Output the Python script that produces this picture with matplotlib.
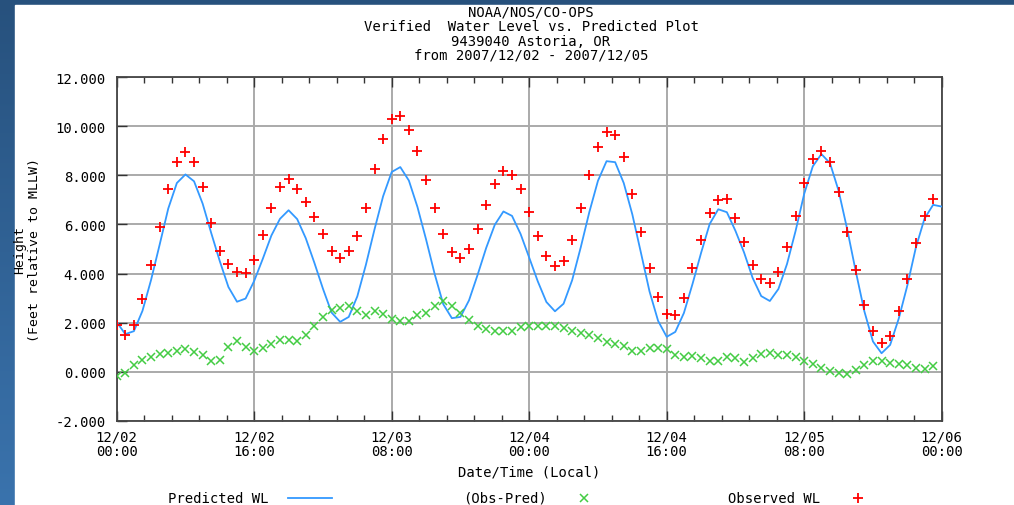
import numpy as np
import matplotlib
matplotlib.use('Agg')
import matplotlib.pyplot as plt
from matplotlib.ticker import MultipleLocator
from matplotlib.patches import Rectangle
from matplotlib.lines import Line2D
from matplotlib.colors import LinearSegmentedColormap

plt.rcParams['font.family'] = ['DejaVu Sans Mono']

# hours since 2007/12/02 00:00
obs_hours = list(range(96))
observed = [1.89, 1.49, 1.92, 2.95, 4.35, 5.88, 7.43, 8.54, 8.96, 8.54,
            7.53, 6.08, 4.91, 4.39, 4.05, 4.01, 4.54, 5.57, 6.66, 7.51,
            7.84, 7.46, 6.93, 6.30, 5.61, 4.91, 4.64, 4.91, 5.54, 6.66,
            8.27, 9.49, 10.30, 10.41, 9.86, 9.01, 7.80, 6.66, 5.61, 4.86,
            4.64, 5.00, 5.81, 6.78, 7.64, 8.18, 8.00, 7.43, 6.51, 5.54,
            4.70, 4.32, 4.53, 5.38, 6.66, 8.00, 9.16, 9.77, 9.65, 8.74,
            7.26, 5.70, 4.22, 3.04, 2.34, 2.30, 3.00, 4.22, 5.38, 6.45,
            6.99, 7.05, 6.28, 5.27, 4.36, 3.78, 3.62, 4.05, 5.07, 6.35,
            7.68, 8.68, 9.01, 8.54, 7.34, 5.70, 4.16, 2.73, 1.66, 1.18,
            1.45, 2.47, 3.78, 5.23, 6.35, 7.03]
residual = [-0.18, -0.04, 0.27, 0.47, 0.61, 0.70, 0.78, 0.85, 0.92, 0.80,
            0.69, 0.43, 0.49, 1.01, 1.23, 1.01, 0.84, 0.97, 1.11, 1.28,
            1.28, 1.24, 1.49, 1.86, 2.23, 2.50, 2.61, 2.68, 2.47, 2.30,
            2.47, 2.34, 2.16, 2.07, 2.07, 2.30, 2.41, 2.68, 2.86, 2.68,
            2.41, 2.09, 1.86, 1.73, 1.65, 1.65, 1.65, 1.82, 1.86, 1.86,
            1.86, 1.86, 1.76, 1.65, 1.59, 1.49, 1.38, 1.19, 1.11, 1.05,
            0.85, 0.85, 0.95, 0.97, 0.92, 0.68, 0.61, 0.65, 0.54, 0.43,
            0.43, 0.61, 0.54, 0.41, 0.54, 0.70, 0.74, 0.68, 0.68, 0.61,
            0.43, 0.31, 0.14, 0.04, -0.04, -0.11, 0.07, 0.27, 0.43, 0.43,
            0.36, 0.31, 0.27, 0.16, 0.11, 0.23]
pred_hours = list(range(97))
predicted = [2.02, 1.53, 1.65, 2.48, 3.74, 5.18, 6.65, 7.69, 8.04, 7.76,
             6.85, 5.65, 4.50, 3.45, 2.85, 2.98, 3.70, 4.60, 5.55, 6.23,
             6.58, 6.22, 5.44, 4.44, 3.38, 2.41, 2.03, 2.23, 3.07, 4.36,
             5.80, 7.15, 8.14, 8.34, 7.79, 6.71, 5.39, 3.98, 2.75, 2.18,
             2.23, 2.91, 3.95, 5.05, 5.99, 6.53, 6.35, 5.61, 4.65, 3.68,
             2.84, 2.46, 2.77, 3.73, 5.07, 6.51, 7.78, 8.58, 8.54, 7.69,
             6.41, 4.85, 3.27, 2.07, 1.42, 1.62, 2.39, 3.57, 4.84, 6.02,
             6.62, 6.50, 5.74, 4.86, 3.82, 3.08, 2.88, 3.37, 4.39, 5.74,
             7.25, 8.37, 8.87, 8.50, 7.38, 5.81, 4.09, 2.46, 1.23, 0.75,
             1.09, 2.16, 3.51, 5.07, 6.24, 6.80, 6.73]

x_ticks = [0, 16, 32, 48, 64, 80, 96]
x_labels = ['12/02\n00:00', '12/02\n16:00', '12/03\n08:00', '12/04\n00:00',
            '12/04\n16:00', '12/05\n08:00', '12/06\n00:00']
y_ticks = [-2, 0, 2, 4, 6, 8, 10, 12]
title_lines = ['NOAA/NOS/CO-OPS', 'Verified  Water Level vs. Predicted Plot',
               '9439040 Astoria, OR', 'from 2007/12/02 - 2007/12/05']

W, H = 1014, 506
fig = plt.figure(figsize=(W / 100, H / 100), dpi=100)
fs = 10

# blue frame with white panel
bg = fig.add_axes([0, 0, 1, 1], zorder=-10)
bg.axis('off')
cmap = LinearSegmentedColormap.from_list('frame', ['#27517d', '#3a73ad'])
bg.imshow(np.linspace(0, 1, 256).reshape(-1, 1), cmap=cmap, aspect='auto',
          extent=[0, 1, 0, 1], origin='upper')
bg.add_patch(Rectangle((15 / W, 0), 1, 1 - 6 / H, color='white'))
bg.set_xlim(0, 1)
bg.set_ylim(0, 1)

ax = fig.add_axes([116.7 / W, 1 - 421.7 / H, 825 / W, 343.4 / H])
ax.plot(pred_hours, predicted, color='#3399ff', lw=1.3, zorder=3)
ax.plot(obs_hours, residual, 'x', color='#44cc44', ms=5.5, mew=1.1, zorder=4)
ax.plot(obs_hours, observed, '+', color='#ff0000', ms=7, mew=1.3, zorder=5)

ax.set_xlim(0, 96)
ax.set_ylim(-2, 12)
ax.set_xticks(x_ticks)
ax.set_xticklabels(x_labels, fontsize=fs, linespacing=1.1)
ax.xaxis.set_minor_locator(MultipleLocator(3.2))
ax.set_yticks(y_ticks)
ax.set_yticklabels(['%.3f' % v for v in y_ticks], fontsize=fs)
ax.grid(True, which='major', color='#aaaaaa', lw=1.4)
ax.tick_params(which='both', direction='in', top=True, right=False, color='#333333', width=1)
ax.tick_params(which='major', length=7)
ax.tick_params(which='minor', length=4)
ax.tick_params(axis='y', pad=8)
ax.tick_params(axis='x', pad=6)
for s in ax.spines.values():
    s.set_color('#444444')
    s.set_linewidth(1.3)

# titles and labels
for i, t in enumerate(title_lines):
    fig.text(531 / W, 1 - (13 + 14.3 * i) / H, t, ha='center', va='center', fontsize=fs)
fig.text(529 / W, 1 - 472 / H, 'Date/Time (Local)', ha='center', va='center', fontsize=fs)
fig.text(20 / W, 1 - 250 / H, 'Height', rotation=90, ha='center', va='center', fontsize=9.5)
fig.text(35 / W, 1 - 250 / H, '(Feet relative to MLLW)', rotation=90, ha='center', va='center', fontsize=9.5)

# legend row along the bottom edge
ly = 1 - 499 / H
fig.text(168 / W, ly, 'Predicted WL', ha='left', va='center', fontsize=fs)
fig.add_artist(Line2D([288 / W, 332 / W], [ly, ly], color='#3399ff', lw=1.3))
fig.text(463 / W, ly, '(Obs-Pred)', ha='left', va='center', fontsize=fs)
fig.add_artist(Line2D([584 / W], [ly], marker='x', color='#44cc44', ms=5.5, mew=1.1))
fig.text(728 / W, ly, 'Observed WL', ha='left', va='center', fontsize=fs)
fig.add_artist(Line2D([858 / W], [ly], marker='+', color='#ff0000', ms=7, mew=1.3))

fig.savefig('out.png', dpi=100)
